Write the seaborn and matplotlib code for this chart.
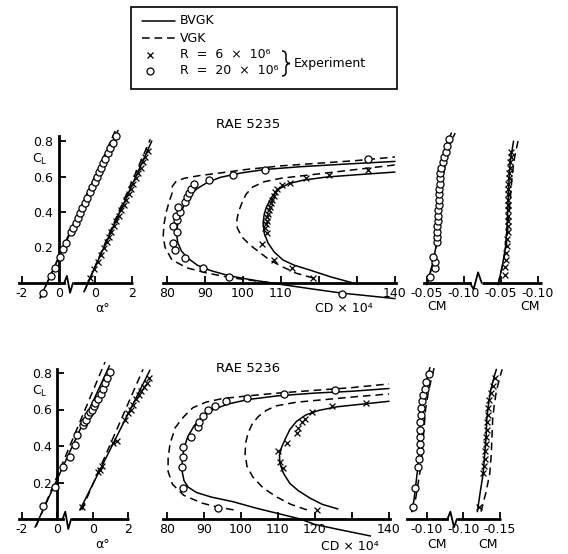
import matplotlib
matplotlib.use('Agg')
import seaborn as sns
from matplotlib import pyplot as plt
from matplotlib import font_manager
from matplotlib.patches import Rectangle, PathPatch
from matplotlib.path import Path

W, H = 568, 554

# ---------------- RAE 5235 ----------------
# CL vs alpha (circles R=20e6, crosses R=6e6)
a_lift_o_alpha = [-0.84, -0.43, -0.22, 0.05, 0.25, 0.41, 0.68, 0.80, 0.93, 1.04, 1.18, 1.29, 1.42,
                  1.56, 1.69, 1.82, 1.96, 2.10, 2.21, 2.32, 2.43, 2.55, 2.68, 2.82, 2.95, 3.13]
a_lift_o_cl = [-0.055, 0.04, 0.085, 0.145, 0.19, 0.225, 0.285, 0.31, 0.34, 0.365, 0.395, 0.42, 0.45,
               0.48, 0.51, 0.54, 0.57, 0.60, 0.625, 0.65, 0.675, 0.70, 0.73, 0.76, 0.79, 0.83]
a_lift_x_alpha = [-0.27, -0.05, 0.13, 0.31, 0.48, 0.61, 0.75, 0.88, 1.01, 1.14, 1.28, 1.41, 1.54,
                  1.67, 1.81, 1.94, 2.07, 2.20, 2.33, 2.47, 2.60, 2.73, 2.89]
a_lift_x_cl = [0.03, 0.08, 0.12, 0.16, 0.20, 0.23, 0.26, 0.29, 0.32, 0.35, 0.38, 0.41, 0.44,
               0.47, 0.50, 0.53, 0.56, 0.59, 0.62, 0.65, 0.68, 0.71, 0.745]
a_lift_bvgk_o_alpha = [-1.02, 3.24]
a_lift_bvgk_o_cl = [-0.085, 0.86]
a_lift_vgk_o_alpha = [-1.0, 3.12]
a_lift_vgk_o_cl = [-0.085, 0.865]
a_lift_bvgk_x_alpha = [-0.62, 3.08]
a_lift_bvgk_x_cl = [-0.05, 0.80]
a_lift_vgk_x_alpha = [-0.62, 3.0]
a_lift_vgk_x_cl = [-0.05, 0.81]

# CL vs CD x 10^4
a_drag_o_cd = [126, 96.3, 89.5, 84.7, 82.1, 81.6, 82.6, 81.6, 82.6, 82.4, 83.4, 82.9, 84.7, 85.3,
               85.8, 86.3, 87.1, 91.1, 97.4, 105.8, 133]
a_drag_o_cl = [-0.06, 0.035, 0.085, 0.14, 0.185, 0.225, 0.29, 0.32, 0.355, 0.38, 0.40, 0.43, 0.455,
               0.485, 0.505, 0.53, 0.555, 0.58, 0.61, 0.635, 0.70]
a_drag_x_cd = [118.4, 113, 108.2, 105, 106.3, 105.8, 106, 106.2, 106.4, 106.6, 106.8, 107.1, 107.4,
               107.7, 108.1, 108.5, 109, 110.3, 112.4, 116.5, 122.5, 133]
a_drag_x_cl = [0.03, 0.085, 0.13, 0.22, 0.28, 0.31, 0.33, 0.35, 0.37, 0.39, 0.41, 0.43, 0.45,
               0.47, 0.49, 0.51, 0.53, 0.55, 0.565, 0.59, 0.61, 0.635]
a_drag_bvgk_o_cd = [140, 132, 126, 118, 110, 103, 96.5, 91.5, 88, 85.5, 83.8, 82.8, 82.5, 82.8, 83.5,
                    84.5, 86, 87.8, 90.5, 94, 99.5, 106, 115, 127, 140]
a_drag_bvgk_o_cl = [-0.088, -0.07, -0.057, -0.033, -0.008, 0.015, 0.04, 0.07, 0.10, 0.14, 0.18, 0.23,
                    0.28, 0.33, 0.385, 0.44, 0.49, 0.53, 0.565, 0.595, 0.62, 0.64, 0.655, 0.67, 0.685]
a_drag_vgk_o_cd = [110, 103.7, 97.4, 90.5, 85.3, 81.3, 79.5, 79, 79.2, 79.8, 80.6, 81.4, 81.4, 82.3,
                   84.5, 88.5, 94, 101, 110, 120, 130, 140]
a_drag_vgk_o_cl = [-0.005, 0.011, 0.028, 0.056, 0.085, 0.13, 0.20, 0.26, 0.33, 0.40, 0.46, 0.51, 0.545,
                   0.57, 0.59, 0.605, 0.62, 0.64, 0.66, 0.675, 0.69, 0.71]
a_drag_bvgk_x_cd = [129, 123, 117.6, 113.5, 110.5, 108.2, 106.6, 105.6, 105.3, 105.6, 106.2, 107.6,
                    109.5, 112, 116, 122, 130, 140]
a_drag_bvgk_x_cl = [0.0, 0.035, 0.073, 0.10, 0.13, 0.175, 0.225, 0.28, 0.338, 0.39, 0.43, 0.485,
                    0.53, 0.56, 0.58, 0.597, 0.61, 0.625]
a_drag_vgk_x_cd = [118.5, 114, 110.5, 107, 104.5, 101.8, 99.7, 98.5, 98.4, 98.8, 99.7, 100.8, 102.5,
                   105.5, 110, 118, 128, 140]
a_drag_vgk_x_cl = [0.028, 0.055, 0.09, 0.13, 0.17, 0.215, 0.26, 0.31, 0.355, 0.40, 0.45, 0.50, 0.54,
                   0.57, 0.59, 0.61, 0.635, 0.665]

# CL vs CM
a_mom_o_cm = [-0.054, -0.061, -0.061, -0.058, -0.063, -0.064, -0.064, -0.064, -0.065, -0.065, -0.065,
              -0.066, -0.066, -0.066, -0.066, -0.067, -0.067, -0.068, -0.069, -0.071, -0.073, -0.075,
              -0.077, -0.080]
a_mom_o_cl = [0.034, 0.085, 0.12, 0.146, 0.23, 0.26, 0.29, 0.32, 0.35, 0.38, 0.41, 0.44, 0.47, 0.50,
              0.53, 0.56, 0.59, 0.62, 0.65, 0.68, 0.71, 0.74, 0.77, 0.81]
a_mom_x_cm = [-0.055, -0.056, -0.057, -0.057, -0.058, -0.058, -0.059, -0.059, -0.059, -0.059, -0.059,
              -0.060, -0.060, -0.060, -0.060, -0.060, -0.061, -0.061, -0.062, -0.062, -0.063, -0.064]
a_mom_x_cl = [0.045, 0.09, 0.13, 0.17, 0.21, 0.25, 0.29, 0.32, 0.35, 0.38, 0.41, 0.44, 0.47, 0.50,
              0.53, 0.56, 0.59, 0.62, 0.65, 0.68, 0.71, 0.74]
a_mom_bvgk_o_cm = [-0.050, -0.057, -0.062, -0.064, -0.065, -0.066, -0.068, -0.071, -0.076, -0.083]
a_mom_bvgk_o_cl = [-0.01, 0.1, 0.2, 0.3, 0.4, 0.5, 0.6, 0.7, 0.78, 0.845]
a_mom_vgk_o_cm = [-0.050, -0.057, -0.062, -0.065, -0.067, -0.069, -0.072, -0.076, -0.081, -0.088]
a_mom_vgk_o_cl = [-0.01, 0.1, 0.2, 0.3, 0.4, 0.5, 0.6, 0.7, 0.78, 0.845]
a_mom_bvgk_x_cm = [-0.046, -0.052, -0.056, -0.058, -0.059, -0.060, -0.061, -0.063, -0.067]
a_mom_bvgk_x_cl = [-0.01, 0.1, 0.2, 0.3, 0.4, 0.5, 0.6, 0.7, 0.8]
a_mom_vgk_x_cm = [-0.046, -0.052, -0.057, -0.059, -0.061, -0.063, -0.065, -0.068, -0.073]
a_mom_vgk_x_cl = [-0.01, 0.1, 0.2, 0.3, 0.4, 0.5, 0.6, 0.7, 0.8]

# ---------------- RAE 5236 ----------------
b_lift_o_alpha = [-0.81, -0.13, 0.32, 0.72, 1.0, 1.11, 1.45, 1.5, 1.62, 1.74, 1.85, 1.96, 2.05, 2.13,
                  2.3, 2.45, 2.58, 2.70, 2.81, 2.98]
b_lift_o_cl = [0.07, 0.175, 0.285, 0.34, 0.405, 0.46, 0.515, 0.53, 0.54, 0.57, 0.585, 0.60, 0.62, 0.635,
               0.66, 0.685, 0.71, 0.745, 0.77, 0.805]
b_lift_x_alpha = [-0.6, 0.3, 0.41, 0.55, 1.15, 1.38, 1.83, 2.0, 2.15, 2.28, 2.45, 2.6, 2.75, 2.9,
                  3.05, 3.19]
b_lift_x_cl = [0.065, 0.26, 0.27, 0.29, 0.415, 0.43, 0.54, 0.58, 0.60, 0.625, 0.655, 0.68, 0.70, 0.725,
               0.745, 0.77]
b_lift_bvgk_o_alpha = [-1.26, 2.95]
b_lift_bvgk_o_cl = [-0.045, 0.84]
b_lift_vgk_o_alpha = [-1.2, 2.7]
b_lift_vgk_o_cl = [-0.04, 0.86]
b_lift_bvgk_x_alpha = [-0.72, 3.24]
b_lift_bvgk_x_cl = [0.05, 0.815]
b_lift_vgk_x_alpha = [-0.62, 2.85]
b_lift_vgk_x_cl = [0.05, 0.82]

b_drag_o_cd = [93.8, 84.3, 84.1, 84.3, 84.3, 86.5, 88.4, 88.6, 89.7, 91.1, 93, 96, 101.5, 111.5, 125.5]
b_drag_o_cl = [0.06, 0.17, 0.285, 0.34, 0.395, 0.45, 0.505, 0.53, 0.565, 0.595, 0.62, 0.645, 0.665,
               0.685, 0.705]
b_drag_x_cd = [120.5, 111.4, 110.5, 110, 112.4, 115, 115.4, 116.5, 117.3, 119.2, 124.6, 133.8]
b_drag_x_cl = [0.05, 0.28, 0.315, 0.37, 0.415, 0.47, 0.50, 0.53, 0.55, 0.585, 0.62, 0.635]
b_drag_bvgk_o_cd = [135, 127, 120, 116, 111, 104, 97.8, 92, 88, 85.7, 84.6, 84.1, 84.1, 84.6, 85.6,
                    87.3, 89.5, 92.5, 96.5, 102, 110, 120, 130, 140]
b_drag_bvgk_o_cl = [-0.093, -0.06, -0.03, 0.0, 0.025, 0.06, 0.095, 0.12, 0.145, 0.175, 0.21, 0.26,
                    0.32, 0.39, 0.45, 0.51, 0.56, 0.60, 0.63, 0.655, 0.675, 0.69, 0.70, 0.715]
b_drag_vgk_o_cd = [98, 93.5, 89.5, 84.5, 81.5, 80.3, 80.3, 80.8, 82.2, 84.5, 87, 90.5, 95, 102, 110,
                   120, 130, 140]
b_drag_vgk_o_cl = [0.05, 0.066, 0.087, 0.13, 0.19, 0.26, 0.33, 0.41, 0.50, 0.56, 0.61, 0.64, 0.66,
                   0.675, 0.69, 0.705, 0.72, 0.74]
b_drag_bvgk_x_cd = [126.2, 122, 118.6, 115.5, 113.2, 111.5, 110.5, 110.4, 111, 112, 113.2, 115, 117.5,
                    121, 126, 133, 140]
b_drag_bvgk_x_cl = [0.055, 0.08, 0.115, 0.155, 0.195, 0.25, 0.305, 0.35, 0.395, 0.44, 0.49, 0.535,
                    0.57, 0.595, 0.615, 0.63, 0.645]
b_drag_vgk_x_cd = [117.8, 113.5, 109.7, 106, 103.2, 101.6, 101.1, 101.3, 101.9, 103, 104.6, 106.8,
                   109.5, 115, 123, 131, 140]
b_drag_vgk_x_cl = [0.05, 0.08, 0.12, 0.17, 0.23, 0.29, 0.36, 0.42, 0.47, 0.52, 0.56, 0.595, 0.62,
                   0.64, 0.655, 0.67, 0.685]

b_mom_o_cm = [-0.081, -0.084, -0.088, -0.089, -0.090, -0.0905, -0.091, -0.091, -0.091, -0.092, -0.092,
              -0.093, -0.095, -0.097, -0.099, -0.103]
b_mom_o_cl = [0.066, 0.17, 0.285, 0.33, 0.37, 0.41, 0.45, 0.49, 0.53, 0.57, 0.61, 0.645, 0.68, 0.715,
              0.75, 0.795]
b_mom_x_cm = [-0.121, -0.127, -0.128, -0.129, -0.130, -0.131, -0.131, -0.132, -0.132, -0.133, -0.134,
              -0.135, -0.137, -0.140, -0.143]
b_mom_x_cl = [0.066, 0.25, 0.29, 0.33, 0.37, 0.41, 0.45, 0.49, 0.53, 0.57, 0.61, 0.65, 0.69, 0.73, 0.77]
b_mom_bvgk_o_cm = [-0.079, -0.082, -0.085, -0.088, -0.0895, -0.0905, -0.092, -0.096, -0.102, -0.104]
b_mom_bvgk_o_cl = [0.04, 0.1, 0.2, 0.3, 0.4, 0.5, 0.6, 0.7, 0.8, 0.83]
b_mom_vgk_o_cm = [-0.080, -0.084, -0.088, -0.092, -0.094, -0.096, -0.098, -0.102, -0.108, -0.110]
b_mom_vgk_o_cl = [0.04, 0.1, 0.2, 0.3, 0.4, 0.5, 0.6, 0.7, 0.8, 0.83]
b_mom_bvgk_x_cm = [-0.119, -0.123, -0.127, -0.129, -0.131, -0.132, -0.134, -0.137, -0.142, -0.145]
b_mom_bvgk_x_cl = [0.04, 0.15, 0.25, 0.35, 0.45, 0.55, 0.62, 0.7, 0.78, 0.82]
b_mom_vgk_x_cm = [-0.124, -0.131, -0.136, -0.138, -0.139, -0.140, -0.142, -0.145, -0.150, -0.153]
b_mom_vgk_x_cl = [0.04, 0.15, 0.25, 0.35, 0.45, 0.55, 0.62, 0.7, 0.78, 0.82]

sns.set_style('white', rc={'axes.edgecolor': 'black', 'xtick.color': 'black', 'ytick.color': 'black',
                           'text.color': 'black'})
names = {f.name for f in font_manager.fontManager.ttflist}
if 'Liberation Sans Narrow' in names:
    plt.rcParams['font.family'] = ['Liberation Sans Narrow', 'DejaVu Sans']
    FS = 11
else:
    plt.rcParams['font.family'] = ['DejaVu Sans']
    FS = 9
plt.rcParams['mathtext.fontset'] = 'dejavusans'

fig = plt.figure(figsize=(W / 100, H / 100), dpi=100)
fig.patch.set_facecolor('white')

LW = 1.1
AXW = 2.0
DASH = (0, (5, 3.2))


def panel(xanch, yanch, xlim, ylim):
    # place an axes so that the given data values land on the given pixels
    (dx0, px0), (dx1, px1) = xanch
    (dy0, py0), (dy1, py1) = yanch
    sx = (px1 - px0) / (dx1 - dx0)
    sy = (py1 - py0) / (dy1 - dy0)
    left = px0 + (xlim[0] - dx0) * sx
    right = px0 + (xlim[1] - dx0) * sx
    low = py0 + (ylim[0] - dy0) * sy
    high = py0 + (ylim[1] - dy0) * sy
    ax = fig.add_axes([left / W, 1 - low / H, (right - left) / W, (low - high) / H])
    ax.patch.set_visible(False)
    for sp in ax.spines.values():
        sp.set_visible(False)
    return ax


def curve(ax, x, y, dashed=False):
    sns.lineplot(x=x, y=y, ax=ax, sort=False, estimator=None, color='black', linewidth=LW,
                 linestyle=DASH if dashed else '-', clip_on=False)


def circles(ax, x, y):
    sns.scatterplot(x=x, y=y, ax=ax, marker='o', s=26, facecolor='white', edgecolor='black',
                    linewidth=0.9, zorder=4, clip_on=False)


def crosses(ax, x, y):
    sns.scatterplot(x=x, y=y, ax=ax, marker='x', s=18, color='black', linewidth=0.9, zorder=4,
                    clip_on=False)


def base_axis(ax, bounds, ticks, labels, extra=None, zig=None):
    ax.spines['bottom'].set_visible(True)
    ax.spines['bottom'].set_position(('data', 0))
    ax.spines['bottom'].set_bounds(*bounds)
    ax.spines['bottom'].set_linewidth(AXW)
    ax.set_xticks(ticks)
    ax.set_xticklabels(labels)
    ax.tick_params(axis='x', bottom=True, direction='in', length=5, width=1.3, pad=3, labelsize=FS)
    if zig is not None:
        ax.plot(zig[0], zig[1], color='black', lw=1.3, clip_on=False)
    if extra is not None:
        ax.plot(extra, [0, 0], color='black', lw=AXW, solid_capstyle='butt', clip_on=False)
    ax.set_yticks([])
    ax.set_xlabel('')
    ax.set_ylabel('')


def shift(vals, d):
    return [v + d for v in vals]


def neg(vals, d=0.0):
    return [-v + d for v in vals]


def draw_row(p, lay):
    g = globals()
    ylim = (-0.15, 0.92)
    # lift curve, second set shifted 2 deg along the broken axis
    ax = panel(lay['alpha'], lay['cl'], (-2.6, 4.6), ylim)
    s = 2.0
    curve(ax, g[p + '_lift_bvgk_o_alpha'], g[p + '_lift_bvgk_o_cl'])
    curve(ax, g[p + '_lift_vgk_o_alpha'], g[p + '_lift_vgk_o_cl'], dashed=True)
    curve(ax, shift(g[p + '_lift_bvgk_x_alpha'], s), g[p + '_lift_bvgk_x_cl'])
    curve(ax, shift(g[p + '_lift_vgk_x_alpha'], s), g[p + '_lift_vgk_x_cl'], dashed=True)
    circles(ax, g[p + '_lift_o_alpha'], g[p + '_lift_o_cl'])
    crosses(ax, shift(g[p + '_lift_x_alpha'], s), g[p + '_lift_x_cl'])
    base_axis(ax, (-2.15, 0.3), [-2, 0, 2, 4], ['-2', '0', '0', '2'], extra=[0.78, 4.08],
              zig=([0.3, 0.45, 0.62, 0.78], [0, 0.04, -0.055, 0]))
    ax.spines['left'].set_visible(True)
    ax.spines['left'].set_position(('data', 0))
    ax.spines['left'].set_bounds(0, lay['cltop'])
    ax.spines['left'].set_linewidth(AXW)
    ax.set_yticks([0.2, 0.4, 0.6, 0.8])
    ax.set_yticklabels(['0.2', '0.4', '0.6', '0.8'])
    ax.tick_params(axis='y', left=True, direction='in', length=5, width=1.3, pad=4, labelsize=FS)
    ax.set_xlim(-2.6, 4.6)
    ax.set_ylim(*ylim)

    # drag polar
    ax = panel(lay['cd'], lay['cl'], (76, 145), ylim)
    curve(ax, g[p + '_drag_bvgk_o_cd'], g[p + '_drag_bvgk_o_cl'])
    curve(ax, g[p + '_drag_vgk_o_cd'], g[p + '_drag_vgk_o_cl'], dashed=True)
    curve(ax, g[p + '_drag_bvgk_x_cd'], g[p + '_drag_bvgk_x_cl'])
    curve(ax, g[p + '_drag_vgk_x_cd'], g[p + '_drag_vgk_x_cl'], dashed=True)
    circles(ax, g[p + '_drag_o_cd'], g[p + '_drag_o_cl'])
    crosses(ax, g[p + '_drag_x_cd'], g[p + '_drag_x_cl'])
    base_axis(ax, (79, 140.3), [80, 90, 100, 110, 120, 130, 140], lay['cdlabels'])
    ax.set_xlim(76, 145)
    ax.set_ylim(*ylim)

    # pitching moment (axis runs in -CM, second set offset)
    ax = panel(lay['cm'], lay['cl'], lay['cmlim'], ylim)
    off = lay['cmoff']
    curve(ax, neg(g[p + '_mom_bvgk_o_cm']), g[p + '_mom_bvgk_o_cl'])
    curve(ax, neg(g[p + '_mom_vgk_o_cm']), g[p + '_mom_vgk_o_cl'], dashed=True)
    curve(ax, neg(g[p + '_mom_bvgk_x_cm'], off), g[p + '_mom_bvgk_x_cl'])
    curve(ax, neg(g[p + '_mom_vgk_x_cm'], off), g[p + '_mom_vgk_x_cl'], dashed=True)
    circles(ax, neg(g[p + '_mom_o_cm']), g[p + '_mom_o_cl'])
    crosses(ax, neg(g[p + '_mom_x_cm'], off), g[p + '_mom_x_cl'])
    base_axis(ax, lay['cmbounds'], lay['cmticks'], lay['cmlabels'], extra=lay['cmextra'], zig=lay['cmzig'])
    ax.set_xlim(*lay['cmlim'])
    ax.set_ylim(*ylim)


layouts = {
    'a': dict(cl=((0, 283), (0.8, 141)), cltop=0.83, alpha=((-2, 22), (4, 132)),
              cd=((80, 167), (140, 395)), cdlabels=['80', '90', '100', '110', '', '', '140'],
              cm=((0.05, 427), (0.20, 538)), cmlim=(0.02, 0.23), cmoff=0.10,
              cmbounds=(0.046, 0.108), cmextra=[0.124, 0.205],
              cmzig=([0.108, 0.113, 0.119, 0.124], [0, -0.035, 0.06, 0]),
              cmticks=[0.05, 0.10, 0.15, 0.20], cmlabels=['-0.05', '-0.10', '-0.05', '-0.10']),
    'b': dict(cl=((0, 519), (0.8, 373)), cltop=0.82, alpha=((-2, 22), (4, 128)),
              cd=((80, 167), (140, 389)), cdlabels=['80', '90', '100', '110', '120', '', '140'],
              cm=((0.10, 427), (0.20, 500)), cmlim=(0.06, 0.23), cmoff=0.05,
              cmbounds=(0.073, 0.128), cmextra=[0.141, 0.201],
              cmzig=([0.128, 0.132, 0.137, 0.141], [0, 0.04, -0.045, 0]),
              cmticks=[0.10, 0.15, 0.20], cmlabels=['-0.10', '-0.10', '-0.15']),
}

draw_row('a', layouts['a'])
draw_row('b', layouts['b'])

# annotation layer in pixel coordinates
ov = fig.add_axes([0, 0, 1, 1])
ov.set_xlim(0, W)
ov.set_ylim(H, 0)
ov.axis('off')
ov.patch.set_visible(False)

ov.add_patch(Rectangle((131, 7), 266, 82, fill=False, lw=1.2, edgecolor='black'))
ov.plot([142, 175], [21, 21], color='black', lw=LW)
ov.plot([142, 175], [38, 38], color='black', lw=LW, linestyle=DASH)
ov.plot([150], [55], marker='x', ms=4, mew=0.9, color='black')
ov.plot([150], [71], marker='o', ms=5, mew=0.9, mfc='white', mec='black')
for yy, txt in [(21, 'BVGK'), (38, 'VGK'), (55, 'R  =  6  ×  10⁶'), (71, 'R  =  20  ×  10⁶')]:
    ov.text(180, yy, txt, fontsize=FS, va='center', ha='left')
# curly brace joining the two experiment rows
bx, by0, by1 = 282, 51, 76
bm = (by0 + by1) / 2
brace = Path([(bx, by0), (bx + 4, by0), (bx + 4, by0 + 4), (bx + 4, bm - 4), (bx + 4, bm), (bx + 8, bm),
              (bx + 4, bm), (bx + 4, bm + 4), (bx + 4, by1 - 4), (bx + 4, by1), (bx, by1)],
             [Path.MOVETO, Path.CURVE3, Path.CURVE3, Path.LINETO, Path.CURVE3, Path.CURVE3,
              Path.CURVE3, Path.CURVE3, Path.LINETO, Path.CURVE3, Path.CURVE3])
ov.add_patch(PathPatch(brace, fill=False, lw=1.1, edgecolor='black'))
ov.text(294, bm, 'Experiment', fontsize=FS, va='center', ha='left')

for y_t, y_ax, cly, title in [(124, 308, 159, 'RAE 5235'), (369, 545, 391, 'RAE 5236')]:
    ov.text(248, y_t, title, fontsize=FS + 0.5, ha='center', va='center')
    ov.text(103, y_ax, 'α°', fontsize=FS, ha='center', va='center')
    ov.text(40, cly, r'C$_\mathregular{L}$', fontsize=FS, ha='center', va='center')
ov.text(344, 309, 'CD × 10⁴', fontsize=FS, ha='center', va='center')
ov.text(350, 547, 'CD × 10⁴', fontsize=FS, ha='center', va='center')
ov.text(437, 306, 'CM', fontsize=FS, ha='center', va='center')
ov.text(530, 306, 'CM', fontsize=FS, ha='center', va='center')
ov.text(437, 545, 'CM', fontsize=FS, ha='center', va='center')
ov.text(488, 545, 'CM', fontsize=FS, ha='center', va='center')

fig.savefig('out.png', dpi=100)
